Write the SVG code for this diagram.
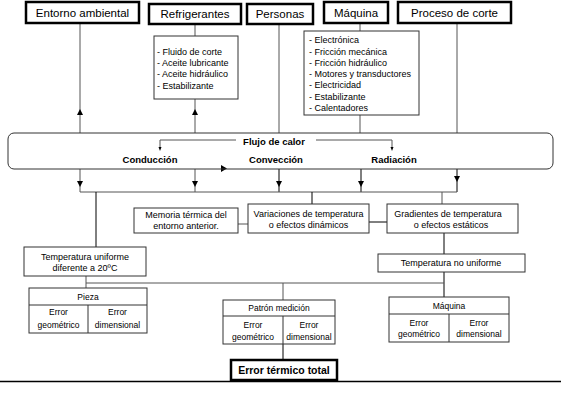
<svg xmlns="http://www.w3.org/2000/svg" width="562" height="405" viewBox="0 0 562 405">
<style>
text{font-family:"Liberation Sans",Arial,sans-serif;fill:#000}
.top{fill:#fff;stroke:#000;stroke-width:2.5}
.box{fill:#fff;stroke:#333;stroke-width:1}
.t11{font-size:11.5px}
.t9{font-size:9px}
.t8{font-size:8.5px}
.b{font-weight:bold;font-size:9.5px}
.c{text-anchor:middle}
.ln{fill:none;stroke:#555;stroke-width:1}
.lk{fill:none;stroke:#000;stroke-width:1}
.ah{fill:#000}
</style>
<rect width="562" height="405" fill="#fff"/>
<g id="connectors">
<line class="ln" x1="80" y1="23" x2="80" y2="133"/>
<line class="ln" x1="195" y1="24" x2="195" y2="36"/>
<line class="ln" x1="195" y1="99" x2="195" y2="133"/>
<line class="ln" x1="279" y1="24" x2="279" y2="133"/>
<line class="ln" x1="360" y1="23" x2="360" y2="31"/>
<line class="ln" x1="360" y1="115" x2="360" y2="133"/>
<line class="ln" x1="457" y1="23" x2="457" y2="133"/>
<path class="ah" d="M77,115 L83,115 L80,109 Z"/>
<path class="ah" d="M192,115 L198,115 L195,109 Z"/>
<path class="ln" d="M236,140 H160 V148"/>
<path class="ln" d="M316,140 H392 V148"/>
<path class="ah" d="M158.5,147 L161.5,147 L160,151 Z"/>
<path class="ah" d="M390.5,147 L393.5,147 L392,151 Z"/>
<path class="ah" d="M221,165 L221,172 L227,168.5 Z"/>
<line class="ln" x1="80" y1="169" x2="80" y2="192"/>
<line class="ln" x1="195" y1="169" x2="195" y2="192"/>
<line class="lk" x1="279" y1="169" x2="279" y2="192"/>
<line class="lk" x1="361" y1="169" x2="361" y2="192"/>
<line class="lk" x1="457" y1="169" x2="457" y2="192"/>
<path class="ah" d="M77,181 L83,181 L80,187 Z"/>
<path class="ah" d="M192,181 L198,181 L195,187 Z"/>
<path class="ah" d="M276,181 L282,181 L279,187 Z"/>
<path class="ah" d="M358,181 L364,181 L361,187 Z"/>
<path class="ah" d="M454,176 L460,176 L457,182 Z"/>
<line class="ln" x1="80" y1="192" x2="457" y2="192"/>
<line class="lk" x1="96" y1="192" x2="96" y2="247"/>
<line class="lk" x1="312" y1="192" x2="312" y2="204"/>
<line class="ln" x1="442" y1="192" x2="442" y2="204"/>
<line class="ln" x1="238" y1="224" x2="248" y2="224"/>
<line class="lk" x1="369" y1="222" x2="387" y2="222"/>
<line class="lk" x1="444" y1="233" x2="444" y2="254"/>
<line class="lk" x1="444" y1="272" x2="444" y2="297"/>
<line class="ln" x1="86" y1="276" x2="86" y2="288"/>
<line class="ln" x1="86" y1="283" x2="444" y2="283"/>
<line class="ln" x1="283" y1="283" x2="283" y2="300"/>
<line class="lk" x1="283" y1="344" x2="283" y2="360"/>
<line x1="0" y1="381.5" x2="561" y2="381.5" stroke="#000" stroke-width="1.5"/>
</g>
<g id="entorno"><rect class="top" x="26" y="2" width="113" height="21"/><text class="t11 c" x="82.5" y="16.5">Entorno ambiental</text></g>
<g id="refrigerantes"><rect class="top" x="149" y="4" width="92" height="20"/><text class="t11 c" x="195" y="18">Refrigerantes</text></g>
<g id="personas"><rect class="top" x="247" y="4" width="66" height="20"/><text class="t11 c" x="280" y="18">Personas</text></g>
<g id="maquina"><rect class="top" x="324" y="2" width="64" height="21"/><text class="t11 c" x="356" y="16.5">Máquina</text></g>
<g id="proceso"><rect class="top" x="398" y="2" width="113" height="21"/><text class="t11 c" x="454.5" y="16.5">Proceso de corte</text></g>
<g id="lista-refrigerantes"><rect class="box" x="154" y="36" width="84" height="63"/>
<text class="t9" x="157" y="55">- Fluido de corte</text>
<text class="t9" x="157" y="66">- Aceite lubricante</text>
<text class="t9" x="157" y="77">- Aceite hidráulico</text>
<text class="t9" x="157" y="88.5">- Estabilizante</text></g>
<g id="lista-maquina"><rect class="box" x="304" y="31" width="115" height="84"/>
<text class="t9" x="309" y="43">- Electrónica</text>
<text class="t9" x="309" y="54.5">- Fricción mecánica</text>
<text class="t9" x="309" y="65.5">- Fricción hidráulico</text>
<text class="t9" x="309" y="76.5">- Motores y transductores</text>
<text class="t9" x="309" y="88">- Electricidad</text>
<text class="t9" x="309" y="99.5">- Estabilizante</text>
<text class="t9" x="309" y="110.5">- Calentadores</text></g>
<g id="flujo"><rect x="8" y="133" width="545" height="36" rx="6" fill="none" stroke="#333" stroke-width="1"/>
<text class="b c" x="274" y="144.5">Flujo de calor</text>
<text class="b c" x="150" y="162.5">Conducción</text>
<text class="b c" x="276" y="162.5">Convección</text>
<text class="b c" x="394" y="162.5">Radiación</text></g>
<g id="memoria"><rect class="box" x="134" y="208" width="104" height="25"/>
<text class="t9 c" x="186" y="218">Memoria térmica del</text>
<text class="t9 c" x="186" y="229">entorno anterior.</text></g>
<g id="variaciones"><rect class="box" x="248" y="204" width="121" height="29"/>
<text class="t9 c" x="308.5" y="217">Variaciones de temperatura</text>
<text class="t9 c" x="308.5" y="228">o efectos dinámicos</text></g>
<g id="gradientes"><rect class="box" x="387" y="204" width="131" height="29"/>
<text class="t9 c" x="448" y="217">Gradientes de temperatura</text>
<text class="t9 c" x="451" y="228">o efectos estáticos</text></g>
<g id="temp-uniforme"><rect class="box" x="24" y="247" width="122" height="29"/>
<text class="t9 c" x="85" y="260">Temperatura uniforme</text>
<text class="t9 c" x="85" y="271">diferente a 20ºC</text></g>
<g id="temp-no-uniforme"><rect class="box" x="378" y="254" width="147" height="18"/>
<text class="t9 c" x="451" y="266">Temperatura no uniforme</text></g>
<g id="pieza"><rect class="box" x="29" y="288" width="118" height="45"/>
<line class="box" x1="29" y1="305" x2="147" y2="305"/><line class="box" x1="88" y1="305" x2="88" y2="333"/>
<text class="t8 c" x="88" y="300">Pieza</text>
<text class="t8 c" x="58.5" y="315">Error</text><text class="t8 c" x="58.5" y="328">geométrico</text>
<text class="t8 c" x="117.5" y="315">Error</text><text class="t8 c" x="117.5" y="328">dimensional</text></g>
<g id="patron"><rect class="box" x="223" y="300" width="112" height="44"/>
<line class="box" x1="223" y1="316" x2="335" y2="316"/><line class="box" x1="283" y1="316" x2="283" y2="344"/>
<text class="t8 c" x="279" y="311">Patrón medición</text>
<text class="t8 c" x="253" y="328">Error</text><text class="t8 c" x="253" y="340">geométrico</text>
<text class="t8 c" x="309" y="328">Error</text><text class="t8 c" x="309" y="340">dimensional</text></g>
<g id="maquina-error"><rect class="box" x="389" y="297" width="120" height="45"/>
<line class="box" x1="389" y1="314" x2="509" y2="314"/><line class="box" x1="449" y1="314" x2="449" y2="342"/>
<text class="t8 c" x="449" y="309">Máquina</text>
<text class="t8 c" x="419" y="326">Error</text><text class="t8 c" x="419" y="337">geométrico</text>
<text class="t8 c" x="479" y="326">Error</text><text class="t8 c" x="479" y="337">dimensional</text></g>
<g id="error-total"><rect class="top" x="231" y="360" width="106" height="20"/>
<text class="c" x="284" y="374" style="font-size:10.5px;font-weight:bold">Error térmico total</text></g>
</svg>
